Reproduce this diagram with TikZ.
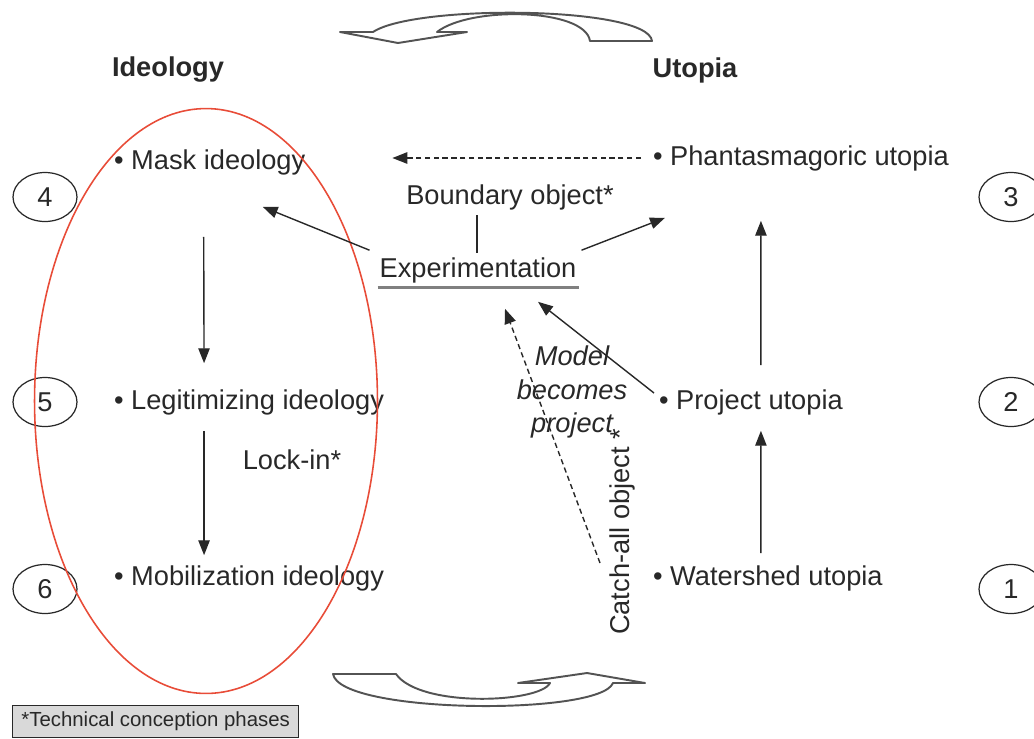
\documentclass[tikz,border=0pt]{standalone}
\usepackage{fontspec}
\setmainfont{Liberation Sans}
\usetikzlibrary{arrows.meta,calc,shapes.geometric}
\definecolor{ered}{RGB}{232,76,56}
\definecolor{ink}{RGB}{40,40,40}
\begin{document}
\begin{tikzpicture}[x=0.02cm,y=-0.02cm,
  txt/.style={font=\fontsize{15.5}{18.6}\selectfont, inner sep=1pt, text=ink},
  hdr/.style={font=\fontsize{15.5}{18.6}\selectfont\bfseries, inner sep=1pt, text=ink},
  arr/.style={-{Triangle[length=8.5pt,width=6.5pt]}, draw=ink, line width=0.8pt},
  darr/.style={arr, dashed, dash pattern=on 3pt off 2pt},
  num/.style={draw=ink, ellipse, minimum width=1.28cm, minimum height=0.98cm, line width=0.7pt, inner sep=0pt, font=\fontsize{15.5}{18.6}\selectfont, text=ink},
  turn/.style={draw=ink!80, fill=white, line width=1.1pt, line join=round}
]
\useasboundingbox (0,0) rectangle (1034,738);

% headers
\node[hdr] (hid) at (168,70) {Ideology};
\node[hdr] (hut) at (695,70) {Utopia};

% left items
\node[txt, anchor=west] (mask) at (112,162) {• Mask ideology};
\node[txt, anchor=west] (legit) at (112,402) {• Legitimizing ideology};
\node[txt, anchor=west] (mobil) at (112,578) {• Mobilization ideology};

% right items
\node[txt, anchor=west] (phan) at (651,158) {• Phantasmagoric utopia};
\node[txt, anchor=west] (proj) at (657,402) {• Project utopia};
\node[txt, anchor=west] (wat) at (651,578) {• Watershed utopia};

% middle
\node[txt] (bnd) at (510,197) {Boundary object*};
\node[txt] (exp) at (478,270) {Experimentation};
\node[txt] (lock) at (292,460) {Lock-in*};
\node[txt, align=center, font=\fontsize{15.5}{18.9}\selectfont\itshape] (model) at (572,392) {Model\\becomes\\project};
\node[txt, rotate=90] (catch) at (622,532) {Catch-all object *};

% numbered ellipses
\node[num] (n4) at (45,197) {4};
\node[num] (n5) at (45,402) {5};
\node[num] (n6) at (45,589) {6};
\node[num] (n3) at (1011,197) {3};
\node[num] (n2) at (1011,402) {2};
\node[num] (n1) at (1011,589) {1};

% red ellipse
\draw[ered, line width=0.9pt] (206,401) ellipse [x radius=3.43cm, y radius=5.85cm];

% underline of Experimentation
\draw[gray, line width=1.6pt] ($(exp.south west)+(0,3)$) -- ($(exp.south east)+(0,3)$);
% boundary object tick
\draw[ink, line width=0.8pt] ($(exp.north)+(-1,-40)$) -- ($(exp.north)+(-1,-2)$);

% connectors
\draw[darr] ($(phan.west)+(-10,0)$) -- ($(mask.east)+(85,-4)$);
\draw[arr] ($(exp.north west)+(-8,-5)$) -- ($(mask.south)+(53,30)$);
\draw[arr] ($(exp.north east)+(3,-5)$) -- ($(phan.south west)+(14,45)$);
\draw[arr] ($(mask.south)+(-6,60)$) -- ($(legit.north)+(-45,-24)$);
\draw[arr] ($(legit.south)+(-45,14)$) -- ($(mobil.north)+(-45,-8)$);
\draw[arr] ($(wat.north)+(-7,-10)$) -- ($(proj.south)+(10,14)$);
\draw[arr] ($(proj.north)+(10,-22)$) -- ($(phan.south)+(-40,48)$);
\draw[arr] ($(proj.west)+(-3,-9)$) -- ($(exp.south)+(60,17)$);
\draw[darr] ($(catch.center)+(-22,31)$) -- ($(exp.south)+(27,24)$);

% curved turn arrows
\draw[turn] (590,41) -- (652,41) .. controls (648,6) and (415,4) .. (373,32)
  -- (340,32) -- (398,43) -- (467,32) -- (437,32)
  .. controls (470,6) and (585,8) .. (590,41) -- cycle;
\draw[turn] (333,674) -- (396,674) .. controls (420,708) and (540,703) .. (550,683)
  -- (518,683) -- (587,673) -- (645,683) -- (613,683)
  .. controls (600,716) and (340,714) .. (333,674) -- cycle;

% footnote
\node[draw=ink, fill=gray!30, anchor=south west, line width=0.8pt, minimum width=5.72cm, minimum height=0.64cm, inner sep=2pt, font=\fontsize{11.6}{14}\selectfont, text=ink] (fn) at (12,738) {*Technical conception phases};
\end{tikzpicture}
\end{document}
